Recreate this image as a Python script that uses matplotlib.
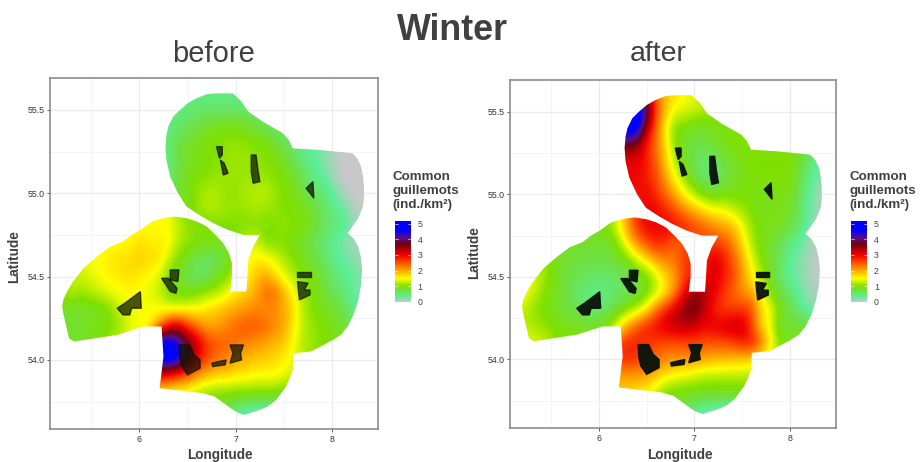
import numpy as np
import matplotlib
matplotlib.use("Agg")
import matplotlib.pyplot as plt
from matplotlib.colors import LinearSegmentedColormap, Normalize
from matplotlib.cm import ScalarMappable
from matplotlib.patches import Polygon

plt.rcParams['font.family'] = ['Liberation Sans', 'DejaVu Sans']

# density in tenths of ind./km2, rows run north to south, 55.6 -> 53.6
lon_cells = [5.2, 5.3, 5.4, 5.5, 5.6, 5.7, 5.8, 5.9, 6.0, 6.1, 6.2, 6.3, 6.4, 6.5, 6.6, 6.7, 6.8,
             6.9, 7.0, 7.1, 7.2, 7.3, 7.4, 7.5, 7.6, 7.7, 7.8, 7.9, 8.0, 8.1, 8.2, 8.3, 8.4]
lat_cells = [55.6, 55.5, 55.4, 55.3, 55.2, 55.1, 55.0, 54.9, 54.8, 54.7, 54.6,
             54.5, 54.4, 54.3, 54.2, 54.1, 54.0, 53.9, 53.8, 53.7, 53.6]

before = [
    [4, 4, 4, 4, 4, 4, 4, 4, 4, 4, 4, 4, 4, 4, 4, 4, 4, 4, 4, 4, 4, 4, 4, 4, 4, 4, 4, 4, 4, 4, 4, 4, 4],
    [4, 4, 4, 4, 4, 4, 4, 4, 4, 4, 4, 4, 4, 4, 5, 5, 5, 5, 5, 5, 5, 5, 5, 5, 5, 5, 5, 5, 5, 5, 5, 5, 5],
    [4, 4, 4, 4, 4, 4, 4, 4, 4, 4, 4, 4, 5, 6, 7, 8, 9, 9, 9, 8, 7, 6, 5, 5, 5, 4, 3, 2, 1, 1, 1, 1, 1],
    [4, 4, 4, 4, 4, 4, 4, 4, 4, 4, 4, 5, 7, 8, 9, 10, 10, 11, 11, 11, 10, 10, 8, 6, 5, 4, 3, 2, 1, 0, 0, 0, 0],
    [4, 4, 4, 4, 4, 4, 4, 4, 4, 4, 4, 4, 7, 8, 9, 10, 10, 11, 11, 11, 11, 10, 10, 8, 6, 4, 3, 2, 1, 0, 0, 0, 0],
    [4, 4, 4, 4, 4, 4, 4, 4, 4, 4, 4, 4, 7, 9, 10, 10, 11, 11, 11, 11, 11, 11, 10, 10, 8, 6, 4, 3, 1, 0, 0, 0, 0],
    [7, 7, 7, 7, 7, 7, 7, 7, 7, 7, 7, 7, 7, 9, 11, 12, 12, 11, 11, 12, 12, 13, 11, 10, 9, 7, 5, 5, 3, 1, 0, 0, 0],
    [15, 15, 15, 15, 15, 15, 15, 15, 15, 15, 15, 15, 12, 8, 11, 12, 12, 11, 11, 11, 12, 11, 11, 10, 10, 9, 8, 6, 4, 3, 1, 0, 0],
    [15, 15, 15, 15, 15, 15, 15, 15, 15, 15, 15, 15, 13, 11, 10, 9, 10, 10, 10, 10, 10, 10, 10, 11, 10, 10, 8, 6, 5, 4, 2, 1, 1],
    [15, 15, 15, 15, 15, 15, 15, 15, 17, 16, 16, 16, 12, 11, 10, 10, 9, 8, 10, 13, 14, 10, 10, 10, 9, 8, 6, 5, 3, 2, 1, 1, 1],
    [13, 13, 14, 15, 15, 16, 17, 17, 18, 17, 17, 13, 10, 8, 6, 5, 6, 8, 11, 14, 16, 16, 14, 12, 10, 9, 7, 6, 4, 3, 2, 1, 1],
    [13, 13, 13, 14, 15, 16, 16, 17, 16, 15, 14, 10, 8, 7, 5, 6, 8, 10, 13, 15, 18, 20, 17, 14, 12, 10, 9, 7, 5, 4, 3, 2, 2],
    [11, 12, 11, 12, 13, 14, 15, 15, 15, 14, 13, 10, 9, 9, 10, 11, 12, 14, 16, 18, 19, 24, 24, 19, 15, 11, 10, 8, 6, 5, 3, 2, 2],
    [8, 8, 8, 8, 9, 10, 13, 14, 15, 15, 15, 14, 14, 15, 15, 17, 18, 19, 20, 21, 22, 21, 21, 20, 17, 12, 10, 9, 8, 7, 4, 3, 3],
    [8, 8, 8, 9, 9, 10, 11, 14, 15, 15, 20, 30, 33, 27, 23, 20, 20, 22, 24, 25, 25, 24, 22, 20, 16, 12, 11, 10, 9, 8, 6, 6, 6],
    [8, 8, 8, 9, 10, 11, 13, 14, 15, 16, 50, 50, 45, 38, 33, 27, 25, 24, 23, 22, 21, 20, 19, 18, 15, 12, 11, 10, 9, 9, 9, 9, 9],
    [8, 8, 8, 9, 10, 11, 13, 14, 15, 16, 50, 50, 48, 38, 30, 26, 23, 22, 20, 19, 18, 18, 17, 16, 14, 12, 11, 10, 9, 9, 9, 9, 9],
    [29, 29, 29, 29, 29, 29, 29, 29, 29, 29, 29, 27, 25, 23, 20, 18, 17, 17, 16, 16, 15, 15, 15, 14, 13, 13, 13, 13, 13, 13, 13, 13, 13],
    [15, 15, 15, 15, 15, 15, 15, 15, 15, 15, 15, 15, 14, 14, 12, 11, 10, 10, 10, 10, 10, 10, 10, 9, 9, 9, 9, 9, 9, 9, 9, 9, 9],
    [8, 8, 8, 8, 8, 8, 8, 8, 8, 8, 8, 8, 8, 8, 8, 8, 8, 7, 4, 3, 2, 2, 2, 2, 2, 2, 2, 2, 2, 2, 2, 2, 2],
    [1, 1, 1, 1, 1, 1, 1, 1, 1, 1, 1, 1, 1, 1, 1, 1, 1, 1, 1, 1, 1, 1, 1, 1, 1, 1, 1, 1, 1, 1, 1, 1, 1],
]

after = [
    [50, 50, 50, 50, 50, 50, 50, 50, 50, 50, 50, 50, 50, 36, 24, 18, 17, 15, 14, 13, 12, 12, 12, 12, 12, 12, 12, 12, 12, 12, 12, 12, 12],
    [50, 50, 50, 50, 50, 50, 50, 50, 50, 50, 50, 50, 50, 42, 26, 19, 14, 14, 13, 12, 11, 10, 10, 10, 10, 10, 10, 10, 10, 10, 10, 10, 10],
    [50, 50, 50, 50, 50, 50, 50, 50, 50, 50, 50, 50, 50, 35, 24, 15, 10, 9, 8, 8, 9, 9, 10, 10, 10, 10, 10, 10, 10, 10, 10, 10, 10],
    [38, 38, 38, 38, 38, 38, 38, 38, 38, 38, 38, 38, 36, 28, 23, 17, 10, 8, 7, 7, 8, 9, 10, 10, 10, 10, 10, 10, 10, 9, 7, 5, 5],
    [30, 30, 30, 30, 30, 30, 30, 30, 30, 30, 30, 30, 30, 29, 24, 18, 12, 8, 6, 5, 5, 7, 8, 9, 10, 10, 10, 10, 10, 8, 5, 3, 3],
    [30, 30, 30, 30, 30, 30, 30, 30, 30, 30, 30, 30, 30, 28, 26, 20, 15, 11, 7, 5, 5, 6, 8, 9, 10, 10, 10, 10, 10, 7, 4, 2, 2],
    [29, 29, 29, 29, 29, 29, 29, 29, 29, 29, 29, 29, 29, 30, 27, 24, 19, 15, 12, 9, 8, 9, 9, 10, 9, 9, 9, 9, 9, 6, 3, 1, 1],
    [9, 9, 9, 9, 9, 9, 9, 9, 9, 10, 14, 20, 27, 30, 30, 28, 25, 22, 19, 17, 15, 15, 13, 11, 10, 9, 9, 9, 8, 6, 3, 1, 1],
    [9, 9, 9, 9, 9, 9, 9, 9, 9, 10, 14, 20, 27, 30, 30, 30, 30, 28, 26, 24, 22, 20, 19, 15, 11, 9, 9, 9, 7, 5, 2, 1, 1],
    [8, 8, 8, 8, 8, 8, 8, 8, 8, 8, 10, 16, 21, 25, 28, 27, 23, 25, 26, 26, 26, 26, 22, 17, 12, 9, 8, 6, 4, 3, 1, 1, 1],
    [12, 11, 11, 10, 8, 8, 7, 7, 7, 7, 8, 9, 13, 16, 20, 22, 23, 27, 27, 27, 32, 29, 25, 20, 14, 10, 8, 6, 3, 2, 1, 0, 0],
    [17, 15, 12, 10, 8, 7, 6, 6, 5, 5, 6, 6, 8, 9, 13, 17, 20, 26, 28, 28, 32, 29, 26, 21, 16, 12, 8, 5, 3, 2, 1, 0, 0],
    [16, 13, 11, 9, 8, 6, 5, 4, 4, 4, 5, 6, 7, 9, 12, 16, 22, 30, 36, 34, 31, 27, 24, 21, 20, 15, 10, 7, 5, 3, 1, 1, 1],
    [13, 11, 10, 9, 8, 7, 6, 4, 5, 6, 8, 10, 12, 16, 23, 28, 32, 36, 38, 33, 28, 26, 26, 27, 26, 17, 15, 9, 7, 4, 2, 2, 2],
    [12, 12, 11, 10, 9, 9, 9, 8, 9, 10, 14, 20, 25, 28, 30, 32, 33, 33, 32, 30, 31, 32, 33, 33, 26, 17, 14, 7, 8, 8, 8, 8, 8],
    [14, 14, 13, 12, 10, 10, 10, 10, 10, 12, 25, 28, 28, 27, 26, 25, 25, 26, 26, 25, 25, 25, 26, 28, 29, 24, 16, 10, 9, 9, 9, 9, 9],
    [14, 14, 13, 12, 10, 10, 10, 10, 10, 12, 28, 28, 27, 25, 23, 22, 21, 21, 21, 20, 19, 19, 18, 18, 17, 15, 12, 10, 9, 9, 9, 9, 9],
    [20, 20, 20, 20, 20, 20, 20, 20, 20, 20, 20, 20, 20, 20, 18, 16, 15, 14, 13, 12, 12, 12, 12, 12, 12, 12, 12, 12, 12, 12, 12, 12, 12],
    [18, 18, 18, 18, 18, 18, 18, 18, 18, 18, 18, 18, 17, 16, 13, 10, 9, 9, 9, 9, 9, 9, 9, 9, 9, 9, 9, 9, 9, 9, 9, 9, 9],
    [9, 9, 9, 9, 9, 9, 9, 9, 9, 9, 9, 9, 9, 9, 9, 9, 8, 7, 4, 3, 2, 2, 2, 2, 2, 2, 2, 2, 2, 2, 2, 2, 2],
    [1, 1, 1, 1, 1, 1, 1, 1, 1, 1, 1, 1, 1, 1, 1, 1, 1, 1, 1, 1, 1, 1, 1, 1, 1, 1, 1, 1, 1, 1, 1, 1, 1],
]

# outline of the surveyed area
area_lon = [6.80, 6.97, 7.06, 7.13, 7.28, 7.40, 7.49, 7.55, 7.59, 7.87, 8.21, 8.26, 8.30, 8.32, 8.33, 8.33,
            8.32, 8.27, 8.16, 8.22, 8.27, 8.30, 8.31, 8.30, 8.27, 8.22, 8.16, 8.09, 8.01, 7.78, 7.60, 7.59,
            7.56, 7.52, 7.42, 7.33, 7.25, 7.09, 7.03, 6.97, 6.78, 6.66, 6.21, 6.25, 6.23, 6.04, 5.77, 5.32,
            5.27, 5.21, 5.20, 5.21, 5.25, 5.30, 5.42, 5.56, 5.70, 5.83, 5.92, 6.01, 6.13, 6.25, 6.37, 6.49,
            6.60, 6.70, 6.79, 6.87, 6.93, 6.96, 6.96, 6.94, 7.11, 7.12, 7.13, 7.18, 7.25, 7.08, 6.92, 6.77,
            6.62, 6.49, 6.40, 6.32, 6.28, 6.27, 6.28, 6.30, 6.35, 6.42, 6.50, 6.59, 6.70]
area_lat = [55.60, 55.60, 55.55, 55.49, 55.43, 55.39, 55.36, 55.32, 55.27, 55.26, 55.24, 55.21, 55.16, 55.10,
            55.04, 54.98, 54.92, 54.85, 54.76, 54.73, 54.68, 54.61, 54.54, 54.45, 54.36, 54.27, 54.20, 54.15,
            54.12, 54.05, 54.04, 53.94, 53.89, 53.84, 53.76, 53.72, 53.70, 53.67, 53.68, 53.70, 53.78, 53.80,
            53.83, 54.02, 54.20, 54.20, 54.15, 54.11, 54.13, 54.28, 54.32, 54.36, 54.41, 54.46, 54.55, 54.62,
            54.68, 54.71, 54.75, 54.78, 54.83, 54.85, 54.86, 54.85, 54.83, 54.80, 54.75, 54.70, 54.64, 54.58,
            54.50, 54.41, 54.41, 54.50, 54.60, 54.68, 54.75, 54.75, 54.78, 54.82, 54.87, 54.92, 55.00, 55.10,
            55.20, 55.28, 55.35, 55.40, 55.46, 55.50, 55.54, 55.57, 55.595]

# wind farms
farms = [
    [(6.80, 55.28), (6.86, 55.28), (6.86, 55.23), (6.83, 55.21)],
    [(6.84, 55.20), (6.88, 55.18), (6.92, 55.12), (6.87, 55.11)],
    [(7.16, 55.23), (7.21, 55.23), (7.23, 55.14), (7.25, 55.07), (7.18, 55.06), (7.16, 55.13)],
    [(7.80, 55.07), (7.81, 54.97), (7.77, 55.00), (7.73, 55.03)],
    [(7.64, 54.53), (7.78, 54.53), (7.78, 54.50), (7.64, 54.50)],
    [(7.64, 54.47), (7.75, 54.46), (7.71, 54.42), (7.77, 54.42), (7.77, 54.39), (7.66, 54.36)],
    [(6.32, 54.54), (6.41, 54.54), (6.40, 54.47), (6.32, 54.48)],
    [(6.23, 54.49), (6.30, 54.49), (6.39, 54.43), (6.38, 54.40), (6.32, 54.41)],
    [(5.77, 54.31), (5.85, 54.34), (6.01, 54.41), (6.02, 54.31), (5.92, 54.31), (5.90, 54.27), (5.83, 54.27)],
    [(6.41, 54.09), (6.52, 54.09), (6.57, 54.03), (6.63, 54.00), (6.63, 53.95), (6.50, 53.91), (6.44, 53.96), (6.42, 54.01)],
    [(6.75, 53.98), (6.82, 53.99), (6.90, 54.00), (6.89, 53.97), (6.76, 53.96)],
    [(6.94, 54.09), (7.08, 54.09), (7.05, 54.04), (7.06, 54.00), (6.94, 53.98), (6.97, 54.04)],
]

VMAX = 5.2
stops = [(0, "#c8c8c8"), (0.3, "#5cee98"), (0.7, "#70e040"), (1.0, "#80e000"), (1.5, "#ffff00"),
         (2.0, "#ffa500"), (2.5, "#ff5000"), (3.0, "#f00000"), (3.7, "#700010"), (4.1, "#55108a"),
         (4.6, "#0000ff"), (VMAX, "#0000ff")]
cmap = LinearSegmentedColormap.from_list("guillemots", [(v / VMAX, c) for v, c in stops])
norm = Normalize(0, VMAX)

W, H = 921, 462
TXT = "#404040"


def axes_px(x0, x1, y0, y1):
    return [x0 / W, 1 - y1 / H, (x1 - x0) / W, (y1 - y0) / H]


def panel(rect, grid, farm_alpha, farm_color):
    ax = fig.add_axes(rect)
    ax.set_xticks([6, 7, 8])
    ax.set_xticks([5.5, 6.5, 7.5], minor=True)
    ax.set_yticks([54, 54.5, 55, 55.5])
    ax.set_yticklabels(["54.0", "54.5", "55.0", "55.5"])
    ax.set_yticks([53.75, 54.25, 54.75, 55.25], minor=True)
    ax.grid(which="major", color="#ebebeb", lw=1.0)
    ax.grid(which="minor", color="#f2f2f2", lw=0.6)
    ax.set_axisbelow(True)
    ax.tick_params(which="major", labelsize=6.3, length=2.2, width=0.7, color="#555555",
                   labelcolor="#333333", pad=2)
    ax.tick_params(which="minor", length=0)
    for s in ax.spines.values():
        s.set_color("#8c8c8c")
        s.set_linewidth(1.2)

    dlon = 0.05
    dlat = 0.05
    im = ax.imshow(np.array(grid) / 10, cmap=cmap, norm=norm, aspect="auto", interpolation="bicubic",
                   extent=[lon_cells[0] - dlon, lon_cells[-1] + dlon, lat_cells[-1] - dlat, lat_cells[0] + dlat],
                   origin="upper", zorder=2)
    outline = Polygon(list(zip(area_lon, area_lat)), closed=True, transform=ax.transData,
                      fc="none", ec="none")
    ax.add_patch(outline)
    im.set_clip_path(outline)
    for f in farms:
        ax.add_patch(Polygon(f, closed=True, fc=farm_color, ec=farm_color, lw=1.0, alpha=farm_alpha, zorder=3))
    ax.set_xlim(5.073, 8.475)
    ax.set_ylim(53.585, 55.692)
    return ax


def legend(x0, title_x):
    cax = fig.add_axes(axes_px(x0, x0 + 16, 220.7, 301.7))
    cb = fig.colorbar(ScalarMappable(norm=norm, cmap=cmap), cax=cax, ticks=[0, 1, 2, 3, 4, 5])
    cb.outline.set_visible(False)
    cax.tick_params(length=0, labelsize=6.3, labelcolor="#444444", pad=5)
    for v in [0, 1, 2, 3, 4, 5]:
        cax.plot([0, 0.2], [v, v], color="white", lw=0.4, transform=cax.get_yaxis_transform())
        cax.plot([0.8, 1], [v, v], color="white", lw=0.4, transform=cax.get_yaxis_transform())
    fig.text(title_x / W, 1 - 191 / H, "Common\nguillemots\n(ind./km²)", fontsize=9.6, fontweight="bold",
             color=TXT, ha="left", va="center", linespacing=1.27)


fig = plt.figure(figsize=(W / 100, H / 100), dpi=100)

panel(axes_px(50, 378, 78, 429), before, 0.72, "#0a1408")
panel(axes_px(510, 835.7, 80, 428), after, 0.96, "#0a140c")

legend(394.7, 392.5)
legend(851, 849)

fig.text(452 / W, 1 - 30 / H, "Winter", fontsize=25.8, fontweight="bold", color=TXT, ha="center", va="center")
fig.text(214 / W, 1 - 54 / H, "before", fontsize=21, color=TXT, ha="center", va="center")
fig.text(658 / W, 1 - 54 / H, "after", fontsize=20.5, color=TXT, ha="center", va="center")

for x in (220, 680):
    fig.text(x / W, 1 - 455 / H, "Longitude", fontsize=9.8, fontweight="bold", color=TXT, ha="center", va="center")
fig.text(14 / W, 1 - 257 / H, "Latitude", fontsize=9.8, fontweight="bold", color=TXT, rotation=90, ha="center", va="center")
fig.text(474 / W, 1 - 253 / H, "Latitude", fontsize=9.8, fontweight="bold", color=TXT, rotation=90, ha="center", va="center")

fig.savefig("out.png", dpi=100)
